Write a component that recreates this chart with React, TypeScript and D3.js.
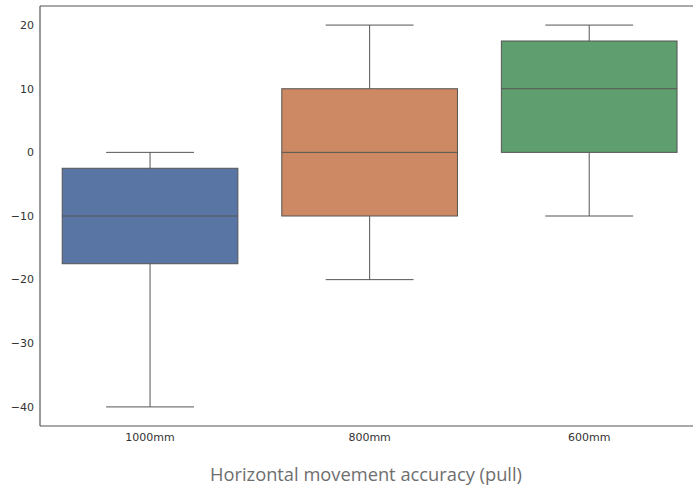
import React from 'react';
import * as d3 from 'd3';

const categories = ['1000mm', '800mm', '600mm'];
const whiskerLow = [-40, -20, -10];
const q1 = [-17.5, -10, 0];
const medians = [-10, 0, 10];
const q3 = [-2.5, 10, 17.5];
const whiskerHigh = [0, 20, 20];
const colors = ['#5975a4', '#cc8963', '#5f9e6e'];
const yTicks = [-40, -30, -20, -10, 0, 10, 20];

const W = 693;
const H = 487;
const margin = { left: 40, top: 6, bottom: 426 };

export default function App() {
  const x = d3.scaleLinear().domain([-0.5, 2.5]).range([40.25, 699]);
  const y = d3.scaleLinear().domain([-43, 23]).range([margin.bottom, margin.top]);
  const band = x(1) - x(0);
  const boxW = band * 0.8;
  const capW = boxW / 2;
  const line = '#555';

  return (
    <svg width={W} height={H} style={{ position: 'absolute', left: 0, top: 0 }}>
      <rect width={W} height={H} fill="#fff" />
      {categories.map((c, i) => {
        const cx = x(i);
        return (
          <g key={c}>
            <line x1={cx} x2={cx} y1={y(whiskerLow[i])} y2={y(q1[i])} stroke={line} strokeWidth={1} />
            <line x1={cx} x2={cx} y1={y(q3[i])} y2={y(whiskerHigh[i])} stroke={line} strokeWidth={1} />
            <line x1={cx - capW / 2} x2={cx + capW / 2} y1={y(whiskerLow[i])} y2={y(whiskerLow[i])} stroke={line} strokeWidth={1} />
            <line x1={cx - capW / 2} x2={cx + capW / 2} y1={y(whiskerHigh[i])} y2={y(whiskerHigh[i])} stroke={line} strokeWidth={1} />
            <rect x={cx - boxW / 2} width={boxW} y={y(q3[i])} height={y(q1[i]) - y(q3[i])} fill={colors[i]} stroke={line} strokeWidth={1} />
            <line x1={cx - boxW / 2} x2={cx + boxW / 2} y1={y(medians[i])} y2={y(medians[i])} stroke={line} strokeWidth={1} />
            <text x={cx} y={margin.bottom + 15} textAnchor="middle" fontFamily="DejaVu Sans" fontSize={11} fill="#333">{c}</text>
          </g>
        );
      })}
      {yTicks.map(t => (
        <text key={t} x={margin.left - 6} y={y(t)} dy="0.35em" textAnchor="end" fontFamily="DejaVu Sans" fontSize={11} fill="#333">
          {t < 0 ? '\u2212' + Math.abs(t) : t}
        </text>
      ))}
      <line x1={margin.left} x2={margin.left} y1={margin.top} y2={margin.bottom} stroke="#555" strokeWidth={1.2} />
      <line x1={margin.left} x2={W} y1={margin.bottom} y2={margin.bottom} stroke="#555" strokeWidth={1.2} />
      <line x1={margin.left} x2={W} y1={margin.top} y2={margin.top} stroke="#555" strokeWidth={1.2} />
      <text x={366} y={481} textAnchor="middle" fontFamily="Open Sans" fontSize={18.3} fill="#6e6e6e">Horizontal movement accuracy (pull)</text>
    </svg>
  );
}
